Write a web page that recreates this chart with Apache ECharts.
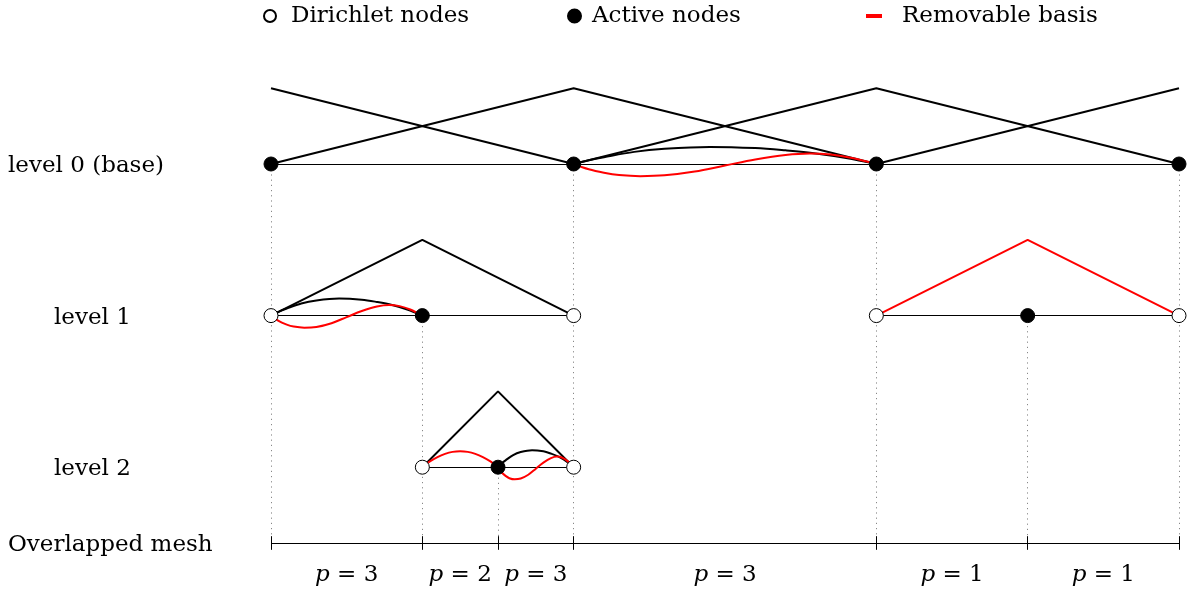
<!DOCTYPE html>
<html>
<head>
<meta charset="utf-8">
<script src="https://cdn.jsdelivr.net/npm/echarts@6/dist/echarts.min.js"></script>
<style>html,body{margin:0;padding:0;background:#fff}#c{width:1188px;height:590px}</style>
</head>
<body>
<div id="c"></div>
<script>
// ---- data (x: position along the domain, y: level baseline + basis value) ----
const levelNames = ['level 0 (base)', 'level 1', 'level 2', 'Overlapped mesh'];
const levelY = [6, 4, 2, 1];
const levelLabelX = [8, 54, 54, 8];

const hatsBlack = [
  [[0, 7], [1, 6]],
  [[0, 6], [1, 7], [2, 6]],
  [[1, 6], [2, 7], [3, 6]],
  [[2, 6], [3, 7]],
  [[0, 4], [0.5, 5], [1, 4]],
  [[0.5, 2], [0.75, 3], [1, 2]]
];
const hatsRed = [
  [[2, 4], [2.5, 5], [3, 4]]
];
const curvesBlack = [
  [[1, 6], [1.05, 6.05], [1.1, 6.09], [1.2, 6.16], [1.3, 6.2], [1.45, 6.225], [1.6, 6.21], [1.7, 6.18], [1.8, 6.14], [1.9, 6.08], [2, 6]],
  [[0, 4], [0.025, 4.05], [0.05, 4.09], [0.1, 4.16], [0.15, 4.2], [0.225, 4.225], [0.3, 4.21], [0.35, 4.18], [0.4, 4.14], [0.45, 4.08], [0.5, 4]],
  [[0.75, 2], [0.7625, 2.05], [0.775, 2.09], [0.8, 2.16], [0.825, 2.2], [0.8625, 2.225], [0.9, 2.21], [0.925, 2.18], [0.95, 2.14], [0.975, 2.08], [1, 2]]
];
const curvesRed = [
  [[1, 6], [1.05, 5.93], [1.1, 5.885], [1.15, 5.855], [1.22, 5.84], [1.3, 5.85], [1.4, 5.9], [1.5, 5.98], [1.6, 6.06], [1.7, 6.12], [1.78, 6.14], [1.85, 6.125], [1.92, 6.08], [2, 6]],
  [[0, 4], [0.025, 3.93], [0.05, 3.885], [0.075, 3.855], [0.11, 3.84], [0.15, 3.85], [0.2, 3.9], [0.25, 3.98], [0.3, 4.06], [0.35, 4.12], [0.39, 4.14], [0.425, 4.125], [0.46, 4.08], [0.5, 4]],
  [[0.5, 2], [0.525, 2.076], [0.55, 2.134], [0.575, 2.176], [0.6, 2.202], [0.625, 2.21], [0.65, 2.202], [0.675, 2.176], [0.7, 2.134], [0.725, 2.076], [0.75, 2]],
  [[0.75, 2], [0.7625, 1.93], [0.775, 1.885], [0.7875, 1.855], [0.805, 1.84], [0.825, 1.85], [0.85, 1.9], [0.875, 1.98], [0.9, 2.06], [0.925, 2.12], [0.945, 2.14], [0.9625, 2.125], [0.98, 2.08], [1, 2]]
];
const baseLines = [
  [[0, 6], [3, 6]],
  [[0, 4], [1, 4]],
  [[2, 4], [3, 4]],
  [[0.5, 2], [1, 2]],
  [[0, 1], [3, 1]]
];
const activeNodes = [[0, 6], [1, 6], [2, 6], [3, 6], [0.5, 4], [2.5, 4], [0.75, 2]];
const dirichletNodes = [[0, 4], [1, 4], [2, 4], [3, 4], [0.5, 2], [1, 2]];
const meshPoints = [0, 0.5, 0.75, 1, 2, 2.5, 3];
const pOrders = [3, 2, 3, 3, 1, 1];
const meshY = 1;
const pLabelY = 0.58;

// ---- build ----
const FONT = 'DejaVu Serif';
const series = [];

series.push({
  type: 'lines', coordinateSystem: 'cartesian2d', silent: true, z: 1,
  lineStyle: { color: '#888', width: 1, type: [1.2, 4], opacity: 1 },
  data: activeNodes.map(p => ({ coords: [[p[0], p[1]], [p[0], meshY]] }))
});
series.push({
  type: 'lines', coordinateSystem: 'cartesian2d', silent: true, z: 2,
  lineStyle: { color: '#000', width: 1, opacity: 1 },
  data: baseLines.map(c => ({ coords: c }))
});
series.push({
  type: 'lines', coordinateSystem: 'cartesian2d', silent: true, z: 2,
  lineStyle: { color: '#000', width: 1, opacity: 1 },
  data: meshPoints.map(x => ({ coords: [[x, meshY - 0.09], [x, meshY + 0.09]] }))
});
hatsBlack.forEach(d => series.push({
  type: 'line', data: d, symbol: 'none', z: 3, clip: false, silent: true,
  lineStyle: { color: '#000', width: 2 }, itemStyle: { color: '#000' }
}));
curvesBlack.forEach(d => series.push({
  type: 'line', data: d, symbol: 'none', smooth: 0.35, z: 3, clip: false, silent: true,
  lineStyle: { color: '#000', width: 2 }, itemStyle: { color: '#000' }
}));
hatsRed.forEach(d => series.push({
  name: 'Removable basis', type: 'line', data: d, symbol: 'none', z: 4, clip: false, silent: true,
  lineStyle: { color: '#ff0000', width: 2 }, itemStyle: { color: '#ff0000' }
}));
curvesRed.forEach(d => series.push({
  name: 'Removable basis', type: 'line', data: d, symbol: 'none', smooth: 0.35, z: 4, clip: false, silent: true,
  lineStyle: { color: '#ff0000', width: 2 }, itemStyle: { color: '#ff0000' }
}));
series.push({
  name: 'Dirichlet nodes', type: 'scatter', data: dirichletNodes, symbol: 'circle', symbolSize: 14, z: 6, clip: false,
  itemStyle: { color: '#fff', borderColor: '#000', borderWidth: 1, opacity: 1 }
});
series.push({
  name: 'Active nodes', type: 'scatter', data: activeNodes, symbol: 'circle', symbolSize: 14, z: 6, clip: false,
  itemStyle: { color: '#000', borderColor: '#000', borderWidth: 1, opacity: 1 }
});
series.push({
  type: 'scatter', symbolSize: 0, z: 6, clip: false, silent: true,
  itemStyle: { opacity: 1, color: '#000' },
  data: pOrders.map((p, i) => ({ value: [(meshPoints[i] + meshPoints[i + 1]) / 2, pLabelY], p: p })),
  label: {
    show: true, position: 'inside', color: '#000', opacity: 1, fontFamily: FONT, fontSize: 23,
    textBorderWidth: 0,
    formatter: prm => '{i|p} = {n|' + prm.data.p + '}',
    rich: {
      i: { fontStyle: 'italic', fontFamily: FONT, fontSize: 23, color: '#000' },
      n: { fontFamily: FONT, fontSize: 23, color: '#000' }
    }
  }
});

const legendText = { fontFamily: FONT, fontSize: 23, color: '#000', lineHeight: 24 };
const legend = [
  { data: ['Dirichlet nodes'], left: 263, top: 4, padding: 0, itemWidth: 12, itemHeight: 12, icon: 'circle',
    selectedMode: false, textStyle: Object.assign({ padding: [0, 0, 0, 10] }, legendText) },
  { data: ['Active nodes'], left: 567, top: 4, padding: 0, itemWidth: 13, itemHeight: 13, icon: 'circle',
    selectedMode: false, textStyle: Object.assign({ padding: [0, 0, 0, 6] }, legendText) },
  { data: ['Removable basis'], left: 866, top: 4, padding: 0, itemWidth: 16, itemHeight: 4, icon: 'rect',
    selectedMode: false, textStyle: Object.assign({ padding: [0, 0, 0, 15] }, legendText),
    itemStyle: { color: '#ff0000' } }
];

const chart = echarts.init(document.getElementById('c'), null, { renderer: 'canvas' });
chart.setOption({
  animation: false,
  backgroundColor: '#fff',
  grid: { left: 271, width: 908, top: 50.3, height: 530.6, containLabel: false },
  xAxis: { type: 'value', min: 0, max: 3, show: false },
  yAxis: { type: 'value', min: 0.5, max: 7.5, show: false },
  legend: legend,
  tooltip: { show: false },
  graphic: levelNames.map((t, i) => ({
    type: 'text', silent: true,
    x: levelLabelX[i],
    y: 166 + (6 - levelY[i]) * 75.8,
    style: { text: t, font: '23px "' + FONT + '"', fill: '#000', textVerticalAlign: 'middle', verticalAlign: 'middle' }
  })),
  series: series
});
</script>
</body>
</html>
